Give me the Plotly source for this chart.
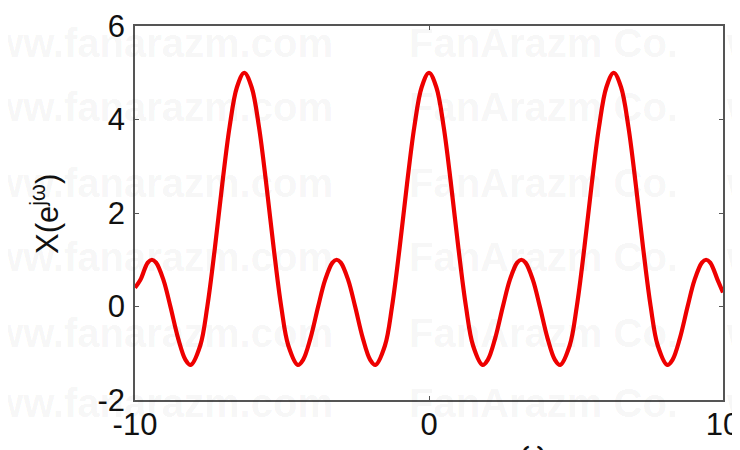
import plotly.graph_objects as go

# Values
omega = [-10.0, -9.816, -9.566, -9.425, -9.283, -9.033, -8.796, -8.533, -8.283, -8.106,
         -7.783, -7.540, -7.283, -7.033, -6.783, -6.533, -6.283, -6.033, -5.783, -5.533,
         -5.283, -5.027, -4.783, -4.460, -4.283, -4.033, -3.770, -3.533, -3.283, -3.142,
         -3.0, -2.75, -2.513, -2.25, -2.0, -1.823, -1.5, -1.257, -1.0, -0.75,
         -0.5, -0.25, 0.0, 0.25, 0.5, 0.75, 1.0, 1.257, 1.5, 1.823,
         2.0, 2.25, 2.513, 2.75, 3.0, 3.142, 3.283, 3.533, 3.770, 4.033,
         4.283, 4.460, 4.783, 5.027, 5.283, 5.533, 5.783, 6.033, 6.283, 6.533,
         6.783, 7.033, 7.283, 7.540, 7.783, 8.106, 8.283, 8.533, 8.796, 9.033,
         9.283, 9.425, 9.566, 9.816, 10.0]
X_values = [0.4, 0.57, 0.94, 1.0, 0.94, 0.57, 0.0, -0.68, -1.14, -1.25,
            -0.84, 0.0, 1.25, 2.61, 3.84, 4.69, 5.0, 4.69, 3.84, 2.61,
            1.25, 0.0, -0.84, -1.25, -1.14, -0.68, 0.0, 0.57, 0.94, 1.0,
            0.94, 0.57, 0.0, -0.68, -1.14, -1.25, -0.84, 0.0, 1.25, 2.61,
            3.84, 4.69, 5.0, 4.69, 3.84, 2.61, 1.25, 0.0, -0.84, -1.25,
            -1.14, -0.68, 0.0, 0.57, 0.94, 1.0, 0.94, 0.57, 0.0, -0.68,
            -1.14, -1.25, -0.84, 0.0, 1.25, 2.61, 3.84, 4.69, 5.0, 4.69,
            3.84, 2.61, 1.25, 0.0, -0.84, -1.25, -1.14, -0.68, 0.0, 0.57,
            0.94, 1.0, 0.94, 0.57, 0.3]

x_tickvals = [-10, 0, 10]
x_ticktext = ["-10", "0", "10"]
y_tickvals = [-2, 0, 2, 4, 6]
y_ticktext = ["-2", "0", "2", "4", "6"]

watermark_left = "www.fanarazm.com"
watermark_mid = "FanArazm Co."
watermark_rows = [43, 107, 183, 257, 333, 403]  # page pixel rows of the faint watermark

# The page body has an 8px default margin; compensate so the plot lands where it should
OFF = 8
PAGE_W, PAGE_H = 740, 450
W, H = PAGE_W - OFF, PAGE_H - OFF
# plot area in page pixels: left 135, right 723, top 26, bottom 400
L, R, T, B = 135 - OFF, PAGE_W - 723, 26 - OFF, PAGE_H - 400
pw, ph = W - L - R, H - T - B

FONT = "Liberation Sans, Arial, sans-serif"

fig = go.Figure()
fig.add_trace(go.Scatter(
    x=omega, y=X_values, mode="lines",
    line=dict(color="#ee0000", width=4.2, shape="spline", smoothing=1.0),
    hoverinfo="skip", showlegend=False,
))

axis_common = dict(
    showline=True, mirror="ticks", linecolor="#555555", linewidth=1.5,
    ticks="inside", ticklen=4, tickwidth=1, tickcolor="#555555",
    showgrid=False, zeroline=False, automargin=False, ticklabeloverflow="allow",
    tickfont=dict(family=FONT, size=31, color="#111111"),
)

fig.update_layout(
    width=W, height=H,
    margin=dict(l=L, r=R, t=T, b=B),
    paper_bgcolor="white", plot_bgcolor="white",
    xaxis=dict(range=[-10, 10], tickvals=x_tickvals, ticktext=x_ticktext,
               ticklabelstandoff=-4, **axis_common),
    yaxis=dict(range=[-2, 6], tickvals=y_tickvals, ticktext=y_ticktext,
               ticklabelstandoff=2, **axis_common),
)

def px_x(p):  # page pixel x -> paper coordinate
    return (p - OFF - L) / pw

def px_y(p):  # page pixel y -> paper coordinate
    return (H - B - (p - OFF)) / ph

anns = []
wm_font = dict(family=FONT, size=40, color="rgba(0,0,0,0.05)")
for r in watermark_rows:
    anns.append(dict(text="<b>" + watermark_left + "</b>", xref="paper", yref="paper",
                     x=px_x(335), y=px_y(r), xanchor="right", yanchor="middle",
                     showarrow=False, font=wm_font))
    anns.append(dict(text="<b>" + watermark_mid + "</b>", xref="paper", yref="paper",
                     x=px_x(407), y=px_y(r), xanchor="left", yanchor="middle",
                     showarrow=False, font=wm_font))
    anns.append(dict(text="<b>" + watermark_left + "</b>", xref="paper", yref="paper",
                     x=px_x(724), y=px_y(r), xanchor="left", yanchor="middle",
                     showarrow=False, font=wm_font))

anns.append(dict(text="X(e<sup>jω</sup>)", xref="paper", yref="paper",
                 x=px_x(45), y=px_y(214), xanchor="center", yanchor="middle",
                 textangle=-90, showarrow=False,
                 font=dict(family=FONT, size=31, color="#111111")))
anns.append(dict(text="ω", xref="paper", yref="paper",
                 x=px_x(533), y=px_y(433), xanchor="center", yanchor="top",
                 showarrow=False,
                 font=dict(family=FONT, size=31, color="#111111")))
fig.update_layout(annotations=anns)

fig.write_html("out.html")
